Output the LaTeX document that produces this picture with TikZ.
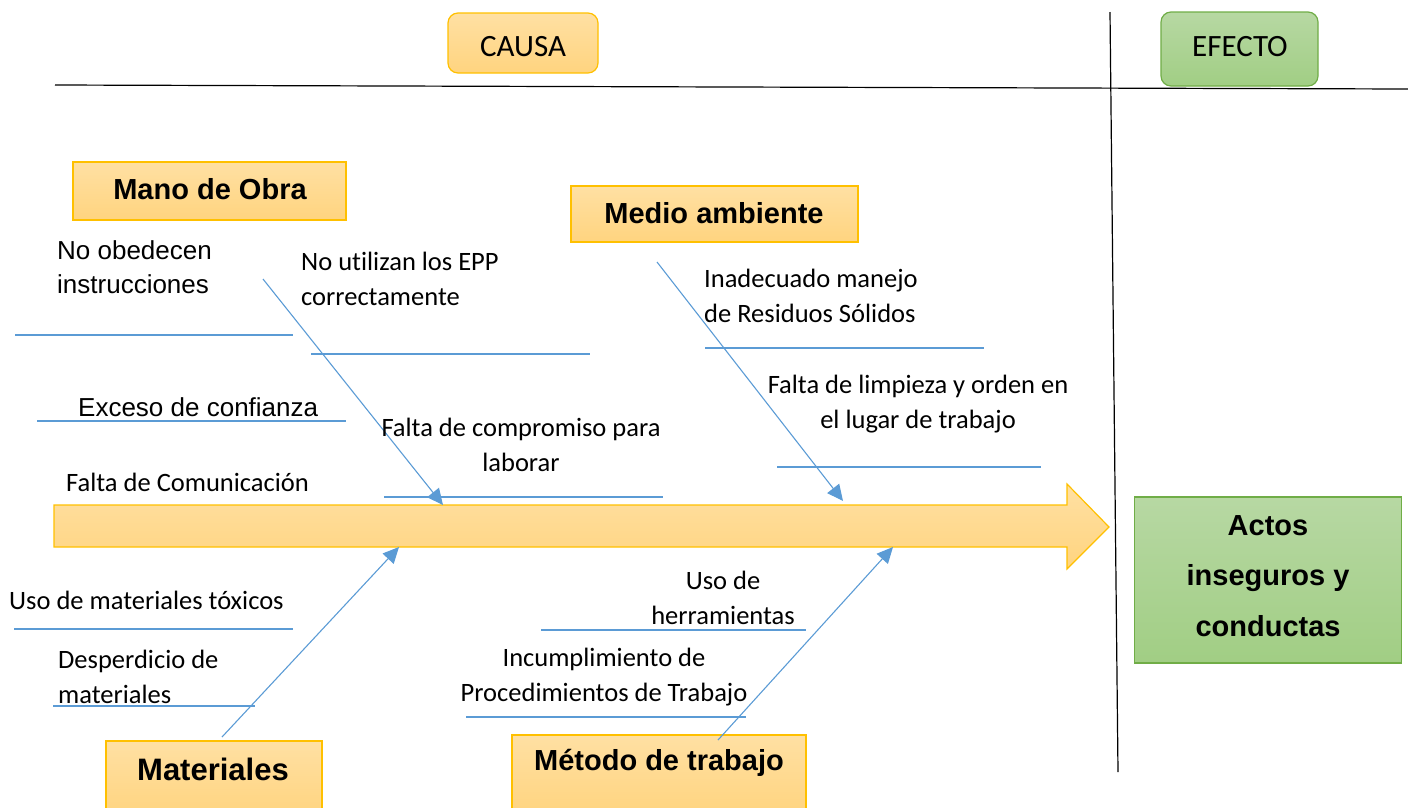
\documentclass[tikz,border=0pt]{standalone}
\usepackage{fontspec}
\setmainfont{Carlito}[Ligatures=NoCommon]
\newfontfamily\arialf{Liberation Sans}[Ligatures=NoCommon]
\usetikzlibrary{arrows.meta}
\definecolor{bone}{HTML}{5B9BD5}
\definecolor{orbd}{HTML}{FFC000}
\definecolor{ortop}{HTML}{FFE0A3}
\definecolor{orbot}{HTML}{FFD47F}
\definecolor{grtop}{HTML}{B7D8A3}
\definecolor{grbot}{HTML}{A1CE84}
\definecolor{grbd}{HTML}{70AD47}
\tikzset{
  orbox/.style={draw=orbd, line width=1.2pt, top color=ortop, bottom color=orbot, inner sep=0pt},
  grbox/.style={draw=grbd, line width=1.2pt, top color=grtop, bottom color=grbot, inner sep=0pt},
  hdrtxt/.style={font=\arialf\bfseries\fontsize{29}{35}\selectfont, inner sep=0pt},
  ctxt/.style={font=\fontsize{26.5}{34.5}\selectfont, inner sep=0pt},
  atxt/.style={font=\arialf\fontsize{26}{34}\selectfont, inner sep=0pt},
  bonel/.style={draw=bone, line width=1.1pt, -{Triangle[length=16pt,width=15pt]}},
  subl/.style={draw=bone, line width=1.2pt},
  frame/.style={draw=black, line width=1.2pt}
}
\begin{document}
\begin{tikzpicture}[x=1pt,y=-1pt]
\useasboundingbox (0,0) rectangle (1408,807);
% frame lines
\coordinate (hl1) at (55,85);
\coordinate (hl2) at (1408,89);
\coordinate (vl1) at (1110,12);
\coordinate (vl2) at (1118,772);
\draw[frame] (hl1) -- (hl2);
\draw[frame] (vl1) -- (vl2);
% top boxes
\node[orbox, rounded corners=10pt, minimum width=150pt, minimum height=60pt] (causa) at (523,43) {};
\node[font=\fontsize{31}{36}\selectfont, inner sep=0pt] (causaT) at (523,47) {CAUSA};
\node[grbox, rounded corners=10pt, minimum width=157pt, minimum height=74pt] (efecto) at (1239.5,49) {};
\node[font=\fontsize{31}{36}\selectfont, inner sep=0pt] (efectoT) at (1240,47) {EFECTO};
% big arrow
\path[draw=orbd, line width=1.2pt, top color=ortop, bottom color=orbot]
  (54,505) -- (1067,505) -- (1067,484) -- (1109,527) -- (1067,569) -- (1067,547) -- (54,547) -- cycle;
\coordinate (spineT1) at (443,505);
\coordinate (spineT2) at (843,501);
\coordinate (spineB1) at (399,547);
\coordinate (spineB2) at (893,547);
% category boxes
\node[orbox, minimum width=273pt, minimum height=58pt] (mano) at (209.5,191) {};
\node[hdrtxt] (manoT) at (210,189) {Mano de Obra};
\node[orbox, minimum width=287pt, minimum height=56pt] (medio) at (714.5,214) {};
\node[hdrtxt] (medioT) at (714,213) {Medio ambiente};
\node[orbox, minimum width=216pt, minimum height=76pt] (mat) at (214,779) {};
\node[hdrtxt, font=\arialf\bfseries\fontsize{31}{36}\selectfont] (matT) at (213,769) {Materiales};
\node[orbox, minimum width=294pt, minimum height=80pt] (met) at (659,775) {};
\node[hdrtxt] (metT) at (659,763) {Método de trabajo};
% effect box
\node[grbox, minimum width=267pt, minimum height=166pt] (actos) at (1268,580) {};
\node[hdrtxt, align=center, font=\arialf\bfseries\fontsize{29}{50.5}\selectfont] (actosT) at (1268,576) {Actos\\inseguros y\\conductas};
% bones
\coordinate (b1) at (263,279);
\coordinate (b2) at (657,262);
\coordinate (b3) at (222,737);
\coordinate (b4) at (718,740);
\draw[bonel] (b1) -- (spineT1);
\draw[bonel] (b2) -- (spineT2);
\draw[bonel] (b3) -- (spineB1);
\draw[bonel] (b4) -- (spineB2);
% sub-cause lines
\draw[subl] (15,335) -- (293,335);
\draw[subl] (311,354) -- (590,354);
\draw[subl] (37,421) -- (346,421);
\draw[subl] (384,497) -- (663,497);
\draw[subl] (705,348) -- (984,348);
\draw[subl] (777,467) -- (1041,467);
\draw[subl] (14,629) -- (293,629);
\draw[subl] (53,706) -- (255,706);
\draw[subl] (541,630) -- (806,630);
\draw[subl] (466,717) -- (746,717);
% sub-cause texts
\node[atxt, anchor=west, align=left] (t1) at (57,267) {\arialf No obedecen\\\arialf instrucciones};
\node[ctxt, anchor=west, align=left] (t2) at (301,279) {No utilizan los EPP\\correctamente};
\node[atxt, anchor=west] (t3) at (78,407) {Exceso de confianza};
\node[ctxt, align=center] (t4) at (521,445) {Falta de compromiso para\\laborar};
\node[ctxt, anchor=west] (t5) at (66,482) {Falta de Comunicación};
\node[ctxt, anchor=west, align=left] (t6) at (704,296) {Inadecuado manejo\\de Residuos Sólidos};
\node[ctxt, align=center] (t7) at (918,404) {Falta de limpieza y orden en\\el lugar de trabajo};
\node[ctxt, anchor=west] (t8) at (9,600) {Uso de materiales tóxicos};
\node[ctxt, anchor=west, align=left] (t9) at (58,677) {Desperdicio de\\materiales};
\node[ctxt, align=center] (t10) at (723,598) {Uso de\\herramientas};
\node[ctxt, align=center] (t11) at (604,677) {Incumplimiento de\\Procedimientos de Trabajo};
\end{tikzpicture}
\end{document}
